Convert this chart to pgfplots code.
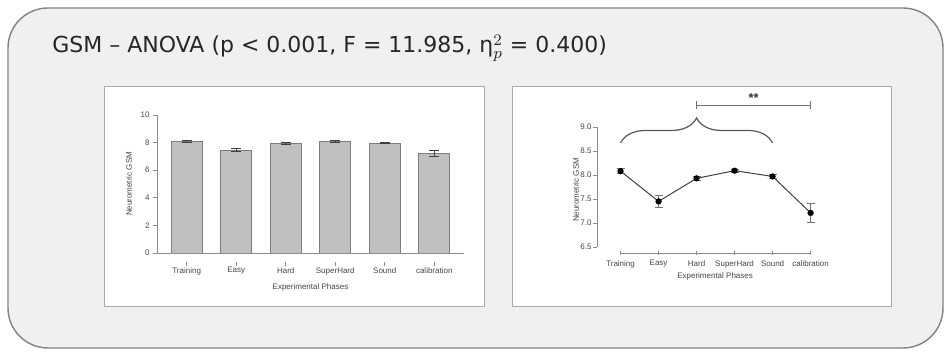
\documentclass[border=0pt]{standalone}
\usepackage{pgfplots}
\pgfplotsset{compat=1.18}
\usepackage{fontspec}
\usetikzlibrary{decorations.pathreplacing}
\newfontfamily\titlefont{DejaVu Sans}
\newfontfamily\chartfont{Liberation Sans}
\definecolor{panel}{RGB}{240,240,240}
\definecolor{panelborder}{RGB}{130,130,130}
\definecolor{boxborder}{RGB}{170,170,170}
\definecolor{bargray}{RGB}{192,192,192}
\definecolor{baredge}{RGB}{125,125,125}
\definecolor{axgray}{RGB}{140,140,140}
\definecolor{txtgray}{RGB}{70,70,70}
\newcommand{\cf}{\chartfont\fontsize{4}{5}\selectfont}
\begin{document}
\begin{tikzpicture}
\path[use as bounding box] (0,0) rectangle (472pt,176pt);
\fill[white] (0,0) rectangle (472pt,176pt);
\draw[draw=panelborder, fill=panel, line width=0.7pt, rounded corners=20pt] (4pt,2pt) rectangle (471.5pt,172pt);
\node[anchor=base west, inner sep=0pt, font=\titlefont\fontsize{11}{13}\selectfont, text=black!85] at (26pt,149.5pt) {GSM – ANOVA (p < 0.001, F = 11.985, η$_{p}^{2}$ = 0.400)};
\draw[boxborder, fill=white, line width=0.5pt] (52pt,22.5pt) rectangle (242pt,132.5pt);
\draw[boxborder, fill=white, line width=0.5pt] (256pt,22.5pt) rectangle (445.5pt,132.5pt);

% Left: bar chart
\begin{axis}[
  at={(78.5pt,49.5pt)}, anchor=south west,
  scale only axis, width=153.5pt, height=69pt,
  xmin=-0.6, xmax=5.6, ymin=0, ymax=10,
  axis x line*=bottom, axis y line*=left,
  axis line style={axgray, line width=0.4pt},
  xtick={0,...,5},
  xticklabels={Training,Easy,Hard,SuperHard,Sound,calibration},
  ytick={0,2,4,6,8,10},
  tick align=outside, major tick length=2pt,
  tick style={axgray, line width=0.4pt},
  xtick style={yshift=-4.5pt},
  /pgf/number format/assume math mode=true,
  ticklabel style={font=\cf, text=txtgray},
  xticklabel style={anchor=north, inner sep=0pt, yshift=-5pt},
  yticklabel style={anchor=east, inner sep=0pt, xshift=-1.5pt},
  xlabel={Experimental Phases}, ylabel={Neurometric GSM},
  label style={font=\cf, text=txtgray},
  xlabel style={at={(axis description cs:0.5,-0.246)}, anchor=center},
  ylabel style={at={(axis description cs:-0.0915,0.5)}, anchor=center},
]
\addplot[ybar, bar width=15.5pt, fill=bargray, draw=baredge, line width=0.4pt,
  error bars/.cd, y dir=both, y explicit,
  error bar style={black!75, line width=0.4pt},
  error mark options={rotate=90, mark size=2.5pt, black!75, line width=0.4pt}]
coordinates {
(0,8.08) +- (0,0.05)
(1,7.45) +- (0,0.10)
(2,7.93) +- (0,0.07)
(3,8.09) +- (0,0.04)
(4,7.97) +- (0,0.04)
(5,7.21) +- (0,0.20)
};
\end{axis}

% Right: line chart
\begin{axis}[
  at={(298.5pt,49.5pt)}, anchor=south west,
  scale only axis, width=114.4pt, height=63pt,
  xmin=-0.62, xmax=5.4, ymin=6.375, ymax=9.0,
  axis x line*=bottom, axis y line*=left,
  axis line style={draw=none},
  clip=false,
  xtick={0,...,5},
  xticklabels={Training,Easy,Hard,SuperHard,Sound,calibration},
  ytick={6.5,7.0,7.5,8.0,8.5,9.0},
  major tick length=2pt,
  xtick align=center, ytick align=outside,
  tick style={axgray, line width=0.4pt},
  /pgf/number format/assume math mode=true,
  yticklabel style={/pgf/number format/fixed, /pgf/number format/fixed zerofill, /pgf/number format/precision=1},
  ticklabel style={font=\cf, text=txtgray},
  xticklabel style={anchor=north, inner sep=0pt, yshift=-2.5pt},
  yticklabel style={anchor=east, inner sep=0pt, xshift=-0.5pt},
  xlabel={Experimental Phases}, ylabel={Neurometric GSM},
  label style={font=\cf, text=txtgray},
  xlabel style={at={(axis description cs:0.516,-0.1825)}, anchor=center},
  ylabel style={at={(axis description cs:-0.092,0.5)}, anchor=center},
]
\draw[axgray, line width=0.4pt] (axis cs:-0.62,6.5) -- (axis cs:-0.62,9.0);
\draw[axgray, line width=0.4pt] (axis cs:0,6.375) -- (axis cs:5,6.375);
\addplot[black!75, line width=0.5pt, mark=*, mark size=1.3pt, mark options={black, solid},
  error bars/.cd, y dir=both, y explicit,
  error bar style={black!55, line width=0.4pt},
  error mark options={rotate=90, mark size=2pt, black!55, line width=0.4pt}]
coordinates {
(0,8.08) +- (0,0.05)
(1,7.45) +- (0,0.12)
(2,7.93) +- (0,0.04)
(3,8.09) +- (0,0.03)
(4,7.97) +- (0,0.05)
(5,7.21) +- (0,0.20)
};
\draw[axgray!80!black, line width=0.5pt] (axis cs:2,9.458) -- (axis cs:5,9.458);
\draw[axgray!80!black, line width=0.5pt] (axis cs:2,9.375) -- (axis cs:2,9.54);
\draw[axgray!80!black, line width=0.5pt] (axis cs:5,9.375) -- (axis cs:5,9.54);
\node[font=\chartfont\bfseries\fontsize{6.5}{7}\selectfont, text=black!80, inner sep=0pt] at (axis cs:3.5,9.6) {**};
\draw[black!65, line width=0.6pt, decorate, decoration={brace, amplitude=12.5pt}] (axis cs:0,8.667) -- (axis cs:4,8.667);
\end{axis}
\end{tikzpicture}
\end{document}
